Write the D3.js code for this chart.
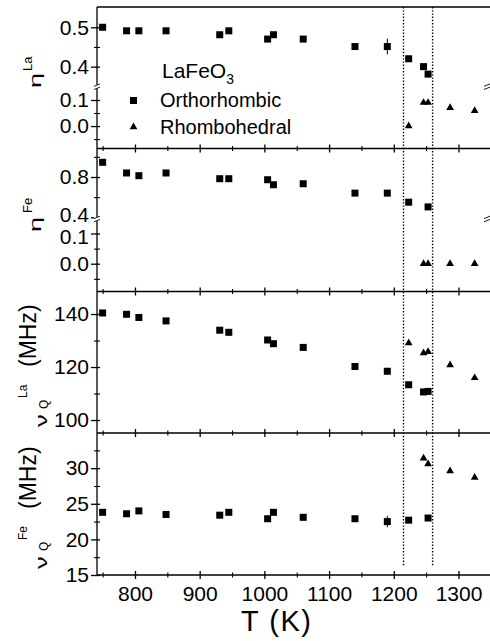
<!DOCTYPE html>
<html>
<head>
<meta charset="utf-8">
<script src="https://cdn.jsdelivr.net/npm/d3@7"></script>
<style>
  body { margin: 0; background: #fff; }
  svg { display: block; font-family: "Liberation Sans", Arial, Helvetica, sans-serif; }
</style>
</head>
<body>
<div id="chart"></div>
<script>
// temperatures (K) shared by all four panels
const temps = [750, 787, 806, 848, 931, 945, 1005, 1014, 1060, 1140, 1190, 1223, 1246, 1253, 1287, 1325];

// eta La
const etaLaOrtho  = [0.500, 0.491, 0.491, 0.491, 0.481, 0.491, 0.470, 0.481, 0.470, 0.451, 0.451, 0.420, 0.400, 0.381, null, null];
const etaLaRhombo = [null, null, null, null, null, null, null, null, null, null, null, 0.000, 0.090, 0.090, 0.070, 0.059];
const etaLaErr    = [0, 0, 0, 0, 0, 0, 0, 0, 0, 0.008, 0.02, 0, 0, 0, 0, 0];

// eta Fe
const etaFeOrtho  = [0.946, 0.840, 0.813, 0.840, 0.783, 0.783, 0.773, 0.723, 0.733, 0.640, 0.640, 0.550, null, 0.503, null, null];
const etaFeRhombo = [null, null, null, null, null, null, null, null, null, null, null, null, 0.0, 0.0, 0.0, 0.0];
const etaFeErr    = [0.015, 0, 0, 0, 0, 0, 0, 0, 0, 0, 0.012, 0, 0, 0, 0, 0];

// nu_Q La (MHz)
const nuLaOrtho  = [140.4, 139.9, 138.7, 137.4, 133.9, 133.1, 130.2, 128.8, 127.4, 120.2, 118.4, 113.3, 110.6, 110.8, null, null];
const nuLaRhombo = [null, null, null, null, null, null, null, null, null, null, null, 129.1, 125.3, 125.8, 120.8, 115.9];

// nu_Q Fe (MHz)
const nuFeOrtho  = [23.8, 23.6, 24.0, 23.5, 23.4, 23.8, 22.9, 23.8, 23.1, 22.9, 22.5, 22.7, null, 23.0, null, null];
const nuFeRhombo = [null, null, null, null, null, null, null, null, null, null, null, null, 31.4, 30.6, 29.6, 28.7];
const nuFeErr    = [0, 0, 0, 0, 0, 0, 0, 0.3, 0, 0, 0.8, 0, 0, 0, 0, 0];

// phase transition temperatures (dotted lines)
const transitions = [1215, 1260];

const xMajor = [800, 900, 1000, 1100, 1200, 1300];
const xMinor = [750, 850, 950, 1050, 1150, 1250];

const width = 490;
const height = 641;
const left = 97;
const tops = [7, 148.5, 291.5, 433, 575];

const x = d3.scaleLinear().domain([741.3, 1348.7]).range([left, width]);

const panels = [
  {
    y: d3.scaleLinear().domain([-0.086, 0.151, 0.349, 0.5515]).range([tops[1], 86.7, 86.7, tops[0]]),
    major: [0.0, 0.1, 0.4, 0.5], minor: [-0.05, 0.05, 0.45], fmt: d3.format('.1f'),
    breakY: 86.7, ortho: etaLaOrtho, rhombo: etaLaRhombo, err: etaLaErr,
  },
  {
    y: d3.scaleLinear().domain([-0.092, 0.148, 0.383, 1.083]).range([tops[2], 219, 219, tops[1]]),
    major: [0.0, 0.1, 0.4, 0.8], minor: [-0.05, 0.05, 0.6, 1.0], fmt: d3.format('.1f'),
    breakY: 219, ortho: etaFeOrtho, rhombo: etaFeRhombo, err: etaFeErr,
    // labels 0.4 and 0.1 sit almost on top of each other; spread them a bit
    nudge: { 0.4: -3, 0.1: 3 },
  },
  {
    y: d3.scaleLinear().domain([95.1, 148.5]).range([tops[3], tops[2]]),
    major: [100, 120, 140], minor: [110, 130], fmt: d3.format('d'),
    ortho: nuLaOrtho, rhombo: nuLaRhombo, err: null,
  },
  {
    y: d3.scaleLinear().domain([15, 34.94]).range([tops[4], tops[3]]),
    major: [15, 20, 25, 30], minor: [17.5, 22.5, 27.5, 32.5], fmt: d3.format('d'),
    ortho: nuFeOrtho, rhombo: nuFeRhombo, err: nuFeErr,
  },
];

const svg = d3.select('#chart')
  .append('svg')
  .attr('width', width)
  .attr('height', height);

// dotted transition lines (behind the markers)
svg.selectAll('line.trans')
  .data(transitions)
  .join('line')
  .attr('class', 'trans')
  .attr('x1', d => x(d)).attr('x2', d => x(d))
  .attr('y1', tops[0]).attr('y2', 567)
  .attr('stroke', '#000')
  .attr('stroke-width', 1.4)
  .attr('stroke-dasharray', '1.4,1.8');

// horizontal panel borders
svg.selectAll('line.border')
  .data(tops)
  .join('line')
  .attr('class', 'border')
  .attr('x1', left).attr('x2', width)
  .attr('y1', d => d).attr('y2', d => d)
  .attr('stroke', '#000')
  .attr('stroke-width', 1.3);

// x ticks on every inner border and the bottom
tops.slice(1).forEach((yy, i) => {
  const isBottom = i === tops.length - 2;
  const gx = svg.append('g')
    .attr('transform', `translate(0, ${yy})`)
    .call(d3.axisBottom(x).tickValues(xMajor).tickSize(4).tickPadding(7)
      .tickFormat(isBottom ? d3.format('d') : () => ''));
  gx.select('.domain').remove();
  gx.selectAll('.tick line').attr('y1', -4).attr('stroke-width', 1.3);
  gx.selectAll('text')
    .attr('font-family', '"Liberation Sans", Arial, sans-serif')
    .attr('font-size', 21)
    .attr('fill', '#000');

  const gm = svg.append('g')
    .attr('transform', `translate(0, ${yy})`)
    .call(d3.axisBottom(x).tickValues(xMinor).tickSize(2.5).tickFormat(''));
  gm.select('.domain').remove();
  gm.selectAll('.tick line').attr('y1', -2.5).attr('stroke-width', 1.1);
});

// left axis line
svg.append('line')
  .attr('x1', left).attr('x2', left)
  .attr('y1', tops[0]).attr('y2', tops[4])
  .attr('stroke', '#000')
  .attr('stroke-width', 1.3);

const breakMark = (cx, cy) => {
  const g = svg.append('g').attr('transform', `translate(${cx}, ${cy})`);
  g.append('rect').attr('x', -3).attr('y', -2).attr('width', 6).attr('height', 4).attr('fill', '#fff');
  [-1.6, 1.6].forEach(dy => g.append('line')
    .attr('x1', -3).attr('x2', 3)
    .attr('y1', dy + 1.2).attr('y2', dy - 1.2)
    .attr('stroke', '#000').attr('stroke-width', 0.9));
};

const sq = 7;
const tri = d3.symbol().type(d3.symbolTriangle).size(26);

panels.forEach(p => {
  const gy = svg.append('g')
    .attr('transform', `translate(${left}, 0)`)
    .call(d3.axisLeft(p.y).tickValues(p.major).tickSize(6).tickPadding(2).tickFormat(p.fmt));
  gy.select('.domain').remove();
  gy.selectAll('.tick line').attr('x1', 3).attr('stroke-width', 1.3);
  gy.selectAll('text')
    .attr('font-family', '"Liberation Sans", Arial, sans-serif')
    .attr('font-size', 21)
    .attr('fill', '#000');
  if (p.nudge) {
    gy.selectAll('.tick text').attr('y', d => p.nudge[d] || 0);
  }

  const gmy = svg.append('g')
    .attr('transform', `translate(${left}, 0)`)
    .call(d3.axisLeft(p.y).tickValues(p.minor).tickSize(3).tickFormat(''));
  gmy.select('.domain').remove();
  gmy.selectAll('.tick line').attr('x1', 3).attr('stroke-width', 1.1);

  if (p.breakY) {
    breakMark(left, p.breakY);
    breakMark(width - 3, p.breakY);
  }

  const ortho = temps.map((t, i) => ({ t, v: p.ortho[i], e: p.err ? p.err[i] : 0 }))
    .filter(d => d.v !== null);
  const rhombo = temps.map((t, i) => ({ t, v: p.rhombo[i] }))
    .filter(d => d.v !== null);

  svg.append('g')
    .selectAll('line')
    .data(ortho.filter(d => d.e > 0))
    .join('line')
    .attr('x1', d => x(d.t)).attr('x2', d => x(d.t))
    .attr('y1', d => p.y(d.v - d.e)).attr('y2', d => p.y(d.v + d.e))
    .attr('stroke', '#000')
    .attr('stroke-width', 1);

  svg.append('g')
    .selectAll('rect')
    .data(ortho)
    .join('rect')
    .attr('x', d => x(d.t) - sq / 2)
    .attr('y', d => p.y(d.v) - sq / 2)
    .attr('width', sq)
    .attr('height', sq)
    .attr('fill', '#000');

  svg.append('g')
    .selectAll('path')
    .data(rhombo)
    .join('path')
    .attr('d', tri)
    .attr('transform', d => `translate(${x(d.t)}, ${p.y(d.v)})`)
    .attr('fill', '#000');
});

// legend
const leg = svg.append('g').attr('font-size', 20).attr('fill', '#000');
leg.append('text').attr('x', 162).attr('y', 78).attr('font-size', 21)
  .text('LaFeO')
  .append('tspan').attr('font-size', 14).attr('dy', 6).text('3');
leg.append('rect').attr('x', 130).attr('y', 97).attr('width', sq).attr('height', sq);
leg.append('text').attr('x', 160).attr('y', 107).text('Orthorhombic');
leg.append('path').attr('d', tri).attr('transform', 'translate(133.5, 127)');
leg.append('text').attr('x', 160).attr('y', 134).text('Rhombohedral');

// rotated axis labels, each piece placed on its own
const rot = (px, py, txt, size, sx = 1) => svg.append('text')
  .attr('transform', `translate(${px}, ${py}) rotate(-90) scale(${sx}, 1)`)
  .attr('font-size', size)
  .attr('fill', '#000')
  .text(txt);

rot(41, 88, 'η', 17, 1.6);
rot(31.5, 71, 'La', 13);
rot(41, 232, 'η', 17, 1.6);
rot(32, 213, 'Fe', 13);

[[0, 'La'], [142, 'Fe']].forEach(([dy, el]) => {
  rot(46.5, 427 + dy, 'ν', 16, 1.6);
  rot(48, 409 + dy, 'Q', 12);
  rot(27, 398 + dy, el, 12);
  rot(36, 367 + dy, '(MHz)', 23);
});

svg.append('text')
  .attr('x', 241)
  .attr('y', 631)
  .attr('font-size', 29)
  .attr('letter-spacing', 1.5)
  .attr('fill', '#000')
  .text('T (K)');
</script>
</body>
</html>
